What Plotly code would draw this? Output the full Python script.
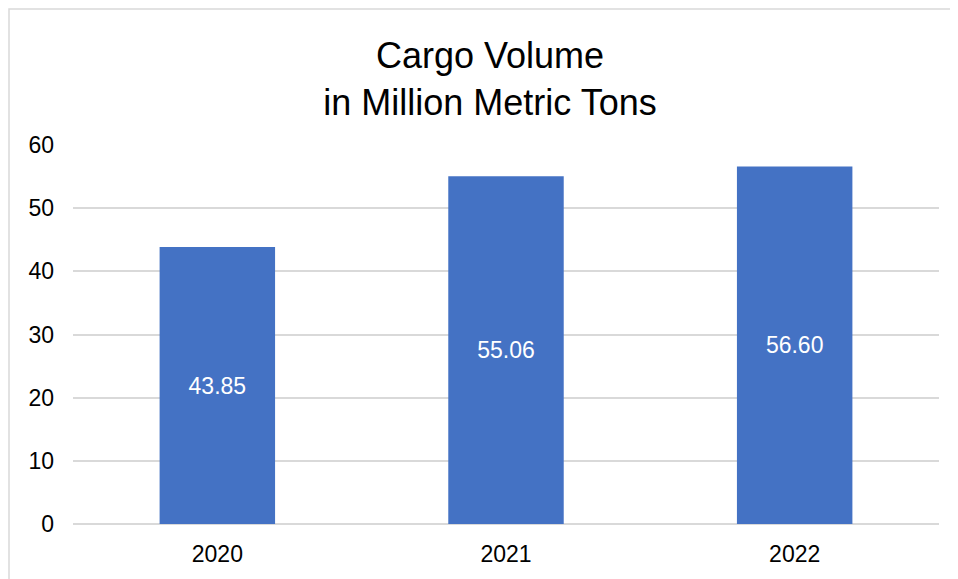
import plotly.graph_objects as go

years = ["2020", "2021", "2022"]
cargo_volume = [43.85, 55.06, 56.60]
y_ticks = [0, 10, 20, 30, 40, 50, 60]

FONT = "Liberation Sans, Arial, sans-serif"

# The page body has an 8px default margin, so the figure is sized/offset to compensate.
W, H = 950, 571

fig = go.Figure(
    go.Bar(
        x=years,
        y=cargo_volume,
        marker=dict(color="#4472C4", line=dict(width=0)),
        text=[f"{v:.2f}" for v in cargo_volume],
        textposition="inside",
        insidetextanchor="middle",
        textfont=dict(family=FONT, size=23, color="white"),
        textangle=0,
        hoverinfo="x+y",
    )
)

fig.update_layout(
    width=W,
    height=H,
    margin=dict(l=65, r=19, t=137, b=55),
    paper_bgcolor="white",
    plot_bgcolor="white",
    bargap=0.6,
    showlegend=False,
    font=dict(family=FONT, color="#000000"),
    title=dict(
        text="Cargo Volume<br>in Million Metric Tons",
        font=dict(family=FONT, size=36, color="#000000"),
        x=(490 - 8) / W,
        xanchor="center",
        xref="container",
        y=1 - 60 / H,
        yanchor="top",
        yref="container",
    ),
    shapes=[
        dict(
            type="rect",
            xref="paper",
            yref="paper",
            x0=(9 - 73) / 866,
            x1=1.05,
            y0=-0.25,
            y1=(524 - 9) / 379,
            line=dict(color="#d9d9d9", width=1.5),
            fillcolor="rgba(0,0,0,0)",
            layer="below",
        )
    ],
)

fig.update_xaxes(
    showgrid=False,
    showline=False,
    ticks="",
    tickfont=dict(family=FONT, size=23, color="#000000"),
    ticklabelstandoff=14,
    fixedrange=True,
)
fig.update_yaxes(
    range=[0, 60],
    tickvals=y_ticks,
    showgrid=True,
    gridcolor="#d9d9d9",
    gridwidth=1.5,
    zeroline=True,
    zerolinecolor="#d9d9d9",
    zerolinewidth=1.5,
    showline=False,
    ticks="",
    tickfont=dict(family=FONT, size=23, color="#000000"),
    ticklabelstandoff=18,
    fixedrange=True,
)

fig.write_html("out.html")
